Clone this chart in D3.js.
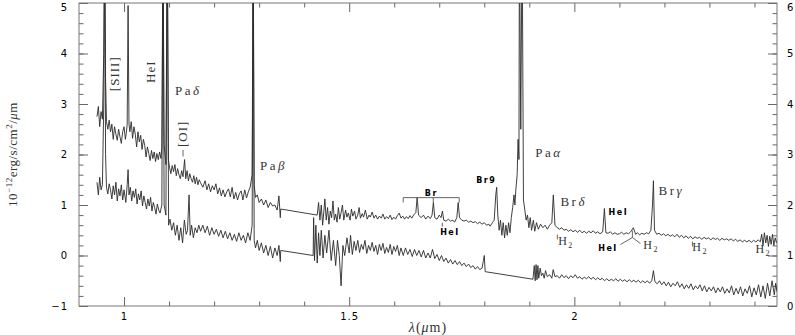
<!DOCTYPE html>
<html>
<head>
<meta charset="utf-8">
<script src="https://cdn.jsdelivr.net/npm/d3@7"></script>
<style>
  body { margin: 0; background: #fff; }
  .axis text { font-family: "DejaVu Sans", sans-serif; font-size: 10px; letter-spacing: 1px; fill: #000; }
  .axis line { stroke: #666; }
  .axis path { display: none; }
  .serif { font-family: "Liberation Serif", "DejaVu Serif", serif; }
  .sans { font-family: "DejaVu Sans", sans-serif; font-weight: bold; }
</style>
</head>
<body>
<div id="chart"></div>
<script>
// ---- data (wavelength in micron, flux in 1e-12 erg/s/cm2/um) ----
var upperSpectrum = [
  [0.940,2.75],[0.943,2.95],[0.946,2.55],[0.949,2.85],[0.952,2.7],[0.955,4.0],[0.957,6.5],[0.959,3.5],
  [0.961,2.65],[0.964,2.5],[0.967,2.68],[0.970,2.45],[0.973,2.6],[0.976,2.3],[0.979,2.55],[0.982,2.4],
  [0.985,2.28],[0.988,2.5],[0.991,2.35],[0.994,2.22],[0.997,2.45],[1.000,2.55],[1.003,2.3],[1.005,2.42],
  [1.007,2.6],[1.009,4.95],[1.011,2.6],[1.013,2.45],[1.016,2.65],[1.019,2.32],[1.022,2.55],[1.025,2.4],
  [1.028,2.15],[1.031,2.45],[1.034,2.25],[1.037,2.38],[1.040,2.1],[1.043,2.3],[1.046,2.18],[1.049,1.95],
  [1.052,2.15],[1.055,2.02],[1.058,1.88],[1.061,2.08],[1.064,1.92],[1.067,2.05],[1.070,1.86],[1.073,2.02],
  [1.076,1.9],[1.079,2.05],[1.082,1.92],[1.084,2.15],[1.0865,6.5],[1.089,2.2],[1.093,1.8],
  [1.096,6.5],[1.0985,1.9],[1.101,1.75],[1.104,1.62],[1.107,1.78],[1.110,1.66],[1.113,1.8],[1.116,1.58],
  [1.119,1.72],[1.122,1.6],[1.125,1.52],[1.128,1.68],[1.131,1.56],[1.1345,1.9],[1.137,1.52],[1.140,1.68],
  [1.143,1.48],[1.146,1.62],[1.149,1.52],[1.152,1.45],[1.155,1.58],[1.158,1.42],[1.161,1.55],[1.164,1.4],
  [1.167,1.5],[1.170,1.44],[1.175,1.35],[1.180,1.48],[1.184,1.3],[1.188,1.42],[1.192,1.26],[1.196,1.38],
  [1.200,1.3],[1.204,1.42],[1.208,1.22],[1.212,1.34],[1.216,1.18],[1.220,1.3],[1.224,1.16],[1.228,1.26],
  [1.232,1.32],[1.236,1.16],[1.240,1.35],[1.244,1.12],[1.248,1.25],[1.252,1.1],[1.256,1.22],[1.260,1.28],
  [1.264,1.1],[1.268,1.3],[1.272,1.14],[1.276,1.26],[1.280,1.35],
  [1.2845,1.6],[1.2867,6.5],[1.289,1.4],[1.292,1.15],[1.296,1.2],[1.300,1.05],[1.305,1.12],[1.310,1.0],
  [1.315,1.1],[1.320,0.95],[1.325,1.05],[1.330,0.98],[1.335,1.0],[1.340,0.9],[1.344,1.18],[1.347,0.75],
  [1.348,0.92],
  [1.429,0.8],[1.432,1.05],[1.435,0.7],[1.438,1.0],[1.441,0.6],[1.444,0.9],[1.446,1.12],[1.449,0.7],
  [1.452,0.95],[1.455,0.62],[1.458,0.88],[1.461,0.75],[1.464,1.08],[1.467,0.7],[1.470,0.82],[1.473,0.66],
  [1.476,0.95],[1.479,0.72],[1.482,0.85],[1.485,1.0],[1.488,0.7],[1.492,0.9],[1.495,0.76],[1.498,0.84],
  [1.502,0.7],[1.505,0.92],[1.508,0.78],[1.512,0.88],[1.515,0.72],[1.519,0.8],[1.522,0.95],[1.525,0.74],
  [1.529,0.83],[1.532,0.76],[1.536,0.9],[1.540,0.72],[1.544,0.8],[1.547,0.76],[1.551,0.86],[1.555,0.74],
  [1.559,0.8],[1.563,0.72],[1.567,0.78],[1.571,0.74],[1.575,0.82],[1.579,0.72],[1.583,0.77],[1.587,0.73],
  [1.591,0.8],[1.595,0.71],[1.599,0.76],[1.603,0.72],[1.607,0.79],[1.611,0.84],[1.615,0.74],[1.619,0.78],
  [1.623,0.72],[1.627,0.77],[1.631,0.73],[1.635,0.79],[1.639,0.74],[1.643,0.8],[1.648,0.85],[1.651,1.15],
  [1.654,0.8],[1.660,0.75],[1.665,0.8],[1.670,0.72],[1.675,0.78],[1.680,0.73],[1.684,0.8],[1.687,1.05],
  [1.690,0.75],[1.695,0.72],[1.700,0.8],[1.704,0.75],[1.707,0.88],[1.710,0.7],[1.715,0.68],[1.720,0.72],
  [1.725,0.68],[1.730,0.7],[1.734,0.66],[1.739,0.75],[1.742,1.05],[1.745,0.75],[1.750,0.7],[1.755,0.68],
  [1.760,0.7],[1.765,0.66],[1.770,0.68],[1.775,0.65],[1.780,0.67],[1.785,0.63],[1.790,0.66],[1.795,0.62],
  [1.800,0.65],[1.805,0.6],[1.810,0.62],[1.813,0.58],[1.818,0.65],[1.822,0.7],[1.8255,1.2],[1.8275,1.35],
  [1.830,0.8],[1.833,0.5],[1.836,0.7],[1.839,0.4],[1.842,0.65],[1.845,0.35],[1.848,0.6],[1.851,0.4],
  [1.854,0.65],[1.857,0.45],[1.860,0.75],[1.863,0.95],[1.866,1.2],[1.868,1.0],[1.870,1.3],[1.873,1.6],
  [1.875,2.3],[1.877,1.9],[1.878,6.5],[1.881,2.5],[1.884,6.5],[1.887,1.1],[1.890,0.9],[1.893,0.7],
  [1.896,0.8],[1.899,0.55],[1.902,0.75],[1.905,0.5],[1.909,0.7],[1.912,0.48],[1.916,0.65],[1.920,0.52],
  [1.925,0.62],[1.930,0.55],[1.935,0.6],[1.940,0.52],[1.945,0.6],[1.950,0.65],[1.9533,1.2],[1.957,0.6],
  [1.962,0.55],[1.967,0.52],[1.972,0.55],[1.977,0.5],[1.982,0.52],[1.987,0.48],[1.992,0.51],[1.997,0.47],
  [2.002,0.5],[2.007,0.46],[2.012,0.5],[2.017,0.45],[2.022,0.48],[2.027,0.44],[2.032,0.48],[2.037,0.45],
  [2.042,0.49],[2.047,0.44],[2.052,0.47],[2.057,0.43],[2.063,0.47],[2.0667,0.93],[2.070,0.45],[2.075,0.44],
  [2.080,0.47],[2.085,0.42],[2.090,0.45],[2.095,0.42],[2.100,0.43],[2.105,0.46],[2.110,0.42],[2.115,0.45],
  [2.120,0.43],[2.125,0.47],[2.131,0.55],[2.136,0.42],[2.140,0.45],[2.145,0.41],[2.150,0.44],[2.155,0.42],
  [2.160,0.45],[2.165,0.43],[2.170,0.5],[2.1735,1.0],[2.1756,1.48],[2.178,0.5],[2.183,0.42],[2.188,0.44],
  [2.193,0.4],[2.198,0.43],[2.203,0.39],[2.208,0.42],[2.213,0.38],[2.218,0.41],[2.223,0.37],[2.228,0.42],
  [2.233,0.36],[2.238,0.4],[2.243,0.35],[2.248,0.39],[2.253,0.34],[2.258,0.38],[2.263,0.33],[2.268,0.37],
  [2.273,0.34],[2.278,0.36],[2.283,0.32],[2.288,0.36],[2.293,0.33],[2.298,0.35],[2.303,0.31],[2.308,0.35],
  [2.313,0.32],[2.318,0.34],[2.323,0.3],[2.328,0.34],[2.333,0.31],[2.338,0.33],[2.343,0.3],[2.348,0.33],
  [2.353,0.29],[2.358,0.32],[2.363,0.28],[2.368,0.31],[2.373,0.27],[2.378,0.3],[2.383,0.27],[2.388,0.3],
  [2.393,0.26],[2.398,0.3],[2.403,0.27],[2.408,0.31],[2.413,0.27],[2.416,0.42],[2.419,0.2],[2.422,0.45],
  [2.425,0.25],[2.428,0.4],[2.431,0.18],[2.434,0.38],[2.437,0.22],[2.440,0.42],[2.443,0.2],[2.446,0.35],
  [2.449,0.25]
];

var lowerSpectrum = [
  [0.940,1.45],[0.943,1.2],[0.946,1.55],[0.949,1.3],[0.952,1.4],[0.955,3.0],[0.957,6.5],[0.959,2.0],
  [0.961,1.35],[0.964,1.22],[0.967,1.42],[0.970,1.3],[0.973,1.12],[0.976,1.38],[0.979,1.2],[0.982,1.45],
  [0.985,1.08],[0.988,1.32],[0.991,1.18],[0.994,1.4],[0.997,1.1],[1.000,1.3],[1.004,1.05],[1.007,1.4],
  [1.009,1.7],[1.011,1.2],[1.014,1.35],[1.017,1.08],[1.020,1.28],[1.023,1.15],[1.026,1.32],[1.029,1.02],
  [1.032,1.22],[1.035,1.1],[1.038,1.28],[1.041,0.98],[1.044,1.18],[1.047,1.05],[1.050,0.92],[1.053,1.12],
  [1.056,0.98],[1.059,1.15],[1.062,0.88],[1.065,1.05],[1.068,0.95],[1.071,0.82],[1.074,1.02],[1.077,0.9],
  [1.080,0.84],[1.084,1.0],[1.0865,6.5],[1.089,1.0],[1.093,0.8],[1.096,6.5],
  [1.099,0.6],[1.102,0.72],[1.106,0.5],[1.110,0.65],[1.114,0.4],[1.118,0.6],[1.122,0.3],[1.126,0.55],
  [1.130,0.25],[1.134,0.7],[1.138,0.42],[1.141,0.5],[1.1444,1.2],[1.147,0.4],[1.150,0.6],[1.154,0.35],
  [1.158,0.55],[1.162,0.45],[1.166,0.6],[1.170,0.48],[1.175,0.6],[1.180,0.45],[1.185,0.58],[1.190,0.4],
  [1.195,0.55],[1.200,0.42],[1.205,0.52],[1.210,0.38],[1.215,0.5],[1.220,0.35],[1.225,0.48],[1.230,0.33],
  [1.235,0.45],[1.240,0.3],[1.245,0.42],[1.250,0.28],[1.255,0.45],[1.260,0.3],[1.265,0.4],[1.270,0.25],
  [1.275,0.45],[1.280,0.3],[1.2845,0.6],[1.2867,6.5],[1.289,0.3],[1.292,0.15],[1.296,0.3],[1.300,0.1],
  [1.305,0.25],[1.310,0.05],[1.315,0.2],[1.320,0.0],[1.325,0.18],[1.330,-0.05],[1.335,0.15],[1.340,0.0],
  [1.344,0.2],[1.347,-0.12],[1.348,0.1],
  [1.420,0.0],[1.421,0.75],[1.423,-0.1],[1.426,0.6],[1.429,-0.15],[1.432,0.45],[1.435,0.0],[1.438,0.5],
  [1.442,-0.05],[1.446,0.4],[1.450,0.05],[1.455,0.5],[1.460,-0.1],[1.465,0.3],[1.470,-0.2],[1.474,0.3],
  [1.478,0.0],[1.482,-0.6],[1.486,0.2],[1.490,0.0],[1.495,0.35],[1.500,0.05],[1.503,0.4],[1.507,0.02],
  [1.511,0.28],[1.515,0.1],[1.519,0.3],[1.523,0.06],[1.527,0.22],[1.531,0.12],[1.535,0.3],[1.539,0.04],
  [1.543,0.2],[1.547,0.1],[1.551,0.26],[1.555,0.08],[1.559,0.2],[1.563,0.02],[1.567,0.22],[1.571,0.1],
  [1.575,0.24],[1.579,0.04],[1.583,0.16],[1.587,0.06],[1.591,0.22],[1.595,0.02],[1.599,0.18],[1.603,0.08],
  [1.607,0.2],[1.611,0.0],[1.615,0.15],[1.620,0.0],[1.625,0.15],[1.630,0.02],
  [1.635,0.12],[1.640,-0.02],[1.645,0.12],[1.650,0.0],[1.655,0.1],[1.660,-0.03],[1.665,0.1],[1.670,-0.05],
  [1.675,0.05],[1.680,-0.05],[1.685,0.12],[1.690,-0.06],[1.695,0.02],[1.700,-0.1],[1.705,0.0],[1.710,-0.12],
  [1.715,-0.05],[1.720,-0.15],[1.725,-0.08],[1.730,-0.17],[1.735,-0.1],[1.740,-0.18],[1.745,-0.12],[1.750,-0.2],
  [1.755,-0.15],[1.760,-0.22],[1.765,-0.17],[1.770,-0.24],[1.775,-0.2],[1.780,-0.27],[1.785,-0.22],[1.790,-0.28],
  [1.795,-0.25],[1.798,-0.1],[1.800,0.0],[1.802,-0.32],
  [1.908,-0.47],[1.911,-0.2],[1.913,-0.5],[1.915,-0.18],[1.917,-0.48],[1.919,-0.2],[1.921,-0.45],[1.924,-0.25],
  [1.927,-0.4],[1.930,-0.35],[1.933,-0.45],[1.936,-0.3],[1.940,-0.42],[1.945,-0.38],[1.950,-0.45],[1.953,-0.28],
  [1.957,-0.42],[1.962,-0.4],[1.967,-0.45],[1.972,-0.38],[1.977,-0.44],[1.982,-0.4],[1.987,-0.46],[1.992,-0.4],
  [1.997,-0.44],[2.002,-0.38],[2.007,-0.45],[2.012,-0.42],[2.017,-0.47],[2.022,-0.43],[2.027,-0.46],[2.032,-0.42],
  [2.037,-0.47],[2.042,-0.43],[2.047,-0.48],[2.052,-0.44],[2.057,-0.48],[2.062,-0.45],[2.067,-0.5],[2.072,-0.46],
  [2.077,-0.5],[2.082,-0.47],[2.087,-0.5],[2.092,-0.46],[2.097,-0.51],[2.102,-0.47],[2.107,-0.51],[2.112,-0.48],
  [2.117,-0.52],[2.122,-0.48],[2.127,-0.52],[2.132,-0.49],[2.137,-0.53],[2.142,-0.49],[2.147,-0.54],[2.152,-0.5],
  [2.157,-0.54],[2.162,-0.5],[2.167,-0.55],[2.172,-0.5],[2.1756,-0.3],[2.179,-0.52],[2.184,-0.56],[2.189,-0.5],
  [2.194,-0.58],[2.199,-0.52],[2.204,-0.6],[2.209,-0.53],[2.214,-0.62],[2.219,-0.55],[2.224,-0.6],[2.229,-0.52],
  [2.234,-0.63],[2.239,-0.56],[2.244,-0.66],[2.249,-0.58],[2.254,-0.65],[2.259,-0.56],[2.264,-0.68],[2.269,-0.6],
  [2.274,-0.66],[2.279,-0.58],[2.284,-0.7],[2.289,-0.6],[2.294,-0.72],[2.299,-0.63],[2.304,-0.7],[2.309,-0.62],
  [2.314,-0.74],[2.319,-0.64],[2.324,-0.72],[2.329,-0.62],[2.334,-0.75],[2.339,-0.66],[2.344,-0.74],[2.349,-0.6],
  [2.354,-0.78],[2.359,-0.65],[2.364,-0.76],[2.369,-0.62],[2.374,-0.8],[2.379,-0.66],[2.384,-0.75],[2.389,-0.6],
  [2.394,-0.82],[2.399,-0.64],[2.404,-0.78],[2.409,-0.58],[2.414,-0.82],[2.419,-0.6],[2.424,-0.85],[2.429,-0.55],
  [2.434,-0.8],[2.439,-0.5],[2.444,-0.78],[2.447,-0.55],[2.450,-0.72]
];

var xMajorTicks = [1, 1.5, 2];
var xMinorTicks = [1.1, 1.2, 1.3, 1.4, 1.6, 1.7, 1.8, 1.9, 2.1, 2.2, 2.3, 2.4];
var yLeftTicks = [-1, 0, 1, 2, 3, 4, 5];
var yRightTicks = [0, 1, 2, 3, 4, 5, 6];

// line identifications: text, wavelength, flux
var serifLabels = [
  {name: "Pa", greek: "δ", lam: 1.113, val: 3.18},
  {name: "Pa", greek: "β", lam: 1.302, val: 1.70},
  {name: "Pa", greek: "α", lam: 1.913, val: 1.96},
  {name: "Br", greek: "δ", lam: 1.969, val: 0.99},
  {name: "Br", greek: "γ", lam: 2.187, val: 1.19}
];
var rotatedLabels = [
  {text: "[SIII]", lam: 0.978, val: 3.6},
  {text: "HeI", lam: 1.058, val: 3.64},
  {text: "[OI]", lam: 1.129, val: 2.41}
];
var sansLabels = [
  {text: "Br9", lam: 1.782, val: 1.44},
  {text: "Br", lam: 1.668, val: 1.17},
  {text: "HeI", lam: 1.702, val: 0.41},
  {text: "HeI", lam: 2.076, val: 0.81},
  {text: "HeI", lam: 2.053, val: 0.08}
];
var h2Labels = [
  {lam: 1.964, val: 0.20},
  {lam: 2.153, val: 0.12},
  {lam: 2.262, val: 0.08},
  {lam: 2.402, val: 0.04}
];
// small marker strokes (in data units)
var markerLines = [
  [[1.131, 2.09], [1.131, 1.96]],
  [[1.620, 1.146], [1.7444, 1.146]],
  [[1.620, 1.146], [1.620, 1.05]],
  [[1.6511, 1.146], [1.6511, 1.05]],
  [[1.6867, 1.146], [1.6867, 1.05]],
  [[1.7444, 1.146], [1.7444, 1.05]],
  [[1.7067, 0.65], [1.7067, 0.57]],
  [[1.9622, 0.415], [1.9622, 0.32]],
  [[2.1022, 0.217], [2.1289, 0.356]],
  [[2.1289, 0.356], [2.1467, 0.237]],
  [[2.1289, 0.494], [2.1289, 0.356]],
  [[2.2622, 0.277], [2.2622, 0.178]]
];

// ---- chart setup ----
var svgWidth = 795;
var svgHeight = 335;
var margin = {top: 3, right: 18, bottom: 29, left: 79};
var width = svgWidth - margin.left - margin.right;
var height = svgHeight - margin.top - margin.bottom;

var svg = d3.select("#chart")
  .append("svg")
  .attr("width", svgWidth)
  .attr("height", svgHeight);

var chartGroup = svg.append("g")
  .attr("transform", `translate(${margin.left}, ${margin.top})`);

var xScale = d3.scaleLinear().domain([0.9, 2.45]).range([0, width]);
var yLeft = d3.scaleLinear().domain([-1, 5]).range([height, 0]);
var yRight = d3.scaleLinear().domain([0, 6]).range([height, 0]);

svg.append("defs").append("clipPath")
  .attr("id", "plotClip")
  .append("rect")
  .attr("width", width)
  .attr("height", height);

// axes (ticks point inward)
chartGroup.append("g").attr("class", "axis")
  .attr("transform", `translate(0, ${height})`)
  .call(d3.axisBottom(xScale).tickValues(xMajorTicks).tickSizeInner(-9).tickSizeOuter(0)
    .tickPadding(7).tickFormat(d3.format("")));
chartGroup.append("g").attr("class", "axis")
  .attr("transform", `translate(0, ${height})`)
  .call(d3.axisBottom(xScale).tickValues(xMinorTicks).tickSizeInner(-4.5).tickSizeOuter(0).tickFormat(""));
chartGroup.append("g").attr("class", "axis")
  .call(d3.axisTop(xScale).tickValues(xMajorTicks).tickSizeInner(-9).tickSizeOuter(0).tickFormat(""));
chartGroup.append("g").attr("class", "axis")
  .call(d3.axisTop(xScale).tickValues(xMinorTicks).tickSizeInner(-4.5).tickSizeOuter(0).tickFormat(""));

var yMinor = d3.range(-1, 5.01, 0.2).map(function(d) { return Math.round(d * 10) / 10; });

chartGroup.append("g").attr("class", "axis")
  .call(d3.axisLeft(yLeft).tickValues(yMinor).tickSizeInner(-4.5).tickSizeOuter(0).tickFormat(""));
chartGroup.append("g").attr("class", "axis")
  .call(d3.axisLeft(yLeft).tickValues(yLeftTicks).tickSizeInner(-9).tickSizeOuter(0)
    .tickPadding(11).tickFormat(d3.format("d")))
  .selectAll("text").filter(function(d) { return d === 5; }).attr("dy", "0.75em");

chartGroup.append("g").attr("class", "axis")
  .attr("transform", `translate(${width}, 0)`)
  .call(d3.axisRight(yRight).tickValues(yMinor.map(function(d) { return Math.round((d + 1) * 10) / 10; }))
    .tickSizeInner(-4.5).tickSizeOuter(0).tickFormat(""));
var rightAxis = chartGroup.append("g").attr("class", "axis")
  .attr("transform", `translate(${width}, 0)`)
  .call(d3.axisRight(yRight).tickValues(yRightTicks).tickSizeInner(-9).tickSizeOuter(0)
    .tickPadding(10).tickFormat(d3.format("d")));
rightAxis.selectAll("text").style("letter-spacing", "0px");
rightAxis.selectAll("text").filter(function(d) { return d === 6; }).attr("dy", "0.75em");

chartGroup.append("rect")
  .attr("width", width)
  .attr("height", height)
  .attr("fill", "none")
  .attr("stroke", "#777")
  .attr("stroke-width", 1);

// spectra
var specLine = d3.line()
  .x(function(d) { return xScale(d[0]); })
  .y(function(d) { return yLeft(d[1]); });

var plotArea = chartGroup.append("g").attr("clip-path", "url(#plotClip)");

[upperSpectrum, lowerSpectrum].forEach(function(spec) {
  plotArea.append("path")
    .datum(spec)
    .attr("d", specLine)
    .attr("fill", "none")
    .attr("stroke", "#2a2a2a")
    .attr("stroke-width", 0.9)
    .attr("stroke-linejoin", "round");
});

// marker strokes
chartGroup.selectAll(".marker")
  .data(markerLines)
  .enter()
  .append("path")
  .attr("class", "marker")
  .attr("d", specLine)
  .attr("fill", "none")
  .attr("stroke", "#555")
  .attr("stroke-width", 0.9);

// serif labels with greek letters
var sl = chartGroup.selectAll(".slabel")
  .data(serifLabels)
  .enter()
  .append("text")
  .attr("class", "serif")
  .attr("x", function(d) { return xScale(d.lam); })
  .attr("y", function(d) { return yLeft(d.val); })
  .style("font-size", "13px")
  .style("letter-spacing", "2.5px")
  .style("fill", "#333");
sl.append("tspan").text(function(d) { return d.name; });
sl.append("tspan").style("font-style", "italic").text(function(d) { return d.greek; });

chartGroup.selectAll(".rlabel")
  .data(rotatedLabels)
  .enter()
  .append("text")
  .attr("class", "serif")
  .attr("transform", function(d) {
    return `translate(${xScale(d.lam)}, ${yLeft(d.val)}) rotate(-90)`;
  })
  .attr("text-anchor", "middle")
  .attr("dy", "0.35em")
  .style("font-size", "13px")
  .style("letter-spacing", "1px")
  .style("fill", "#333")
  .text(function(d) { return d.text; });

chartGroup.selectAll(".sanslabel")
  .data(sansLabels)
  .enter()
  .append("text")
  .attr("class", "sans")
  .attr("x", function(d) { return xScale(d.lam); })
  .attr("y", function(d) { return yLeft(d.val); })
  .style("font-size", "8px")
  .style("letter-spacing", "1.5px")
  .text(function(d) { return d.text; });

var hl = chartGroup.selectAll(".h2label")
  .data(h2Labels)
  .enter()
  .append("text")
  .attr("class", "serif")
  .attr("x", function(d) { return xScale(d.lam); })
  .attr("y", function(d) { return yLeft(d.val); })
  .style("font-size", "12px")
  .style("letter-spacing", "1.5px")
  .style("fill", "#333");
hl.append("tspan").text("H");
hl.append("tspan").attr("dy", 3).style("font-size", "8px").text("2");

// axis titles
svg.append("text")
  .attr("class", "serif")
  .attr("transform", `translate(17, ${margin.top + height / 2}) rotate(-90)`)
  .attr("text-anchor", "middle")
  .style("font-size", "13px")
  .style("letter-spacing", "0.5px")
  .style("fill", "#333")
  .call(function(t) {
    t.append("tspan").text("10");
    t.append("tspan").attr("dy", -5).style("font-size", "9px").text("−12");
    t.append("tspan").attr("dy", 5).text("erg/s/cm");
    t.append("tspan").attr("dy", -5).style("font-size", "9px").text("2");
    t.append("tspan").attr("dy", 5).text("/");
    t.append("tspan").style("font-style", "italic").text("μ");
    t.append("tspan").text("m");
  });

svg.append("text")
  .attr("class", "serif")
  .attr("x", margin.left + width / 2)
  .attr("y", svgHeight - 3)
  .attr("text-anchor", "middle")
  .style("font-size", "14px")
  .style("letter-spacing", "1px")
  .style("fill", "#333")
  .call(function(t) {
    t.append("tspan").style("font-style", "italic").text("λ");
    t.append("tspan").text("(");
    t.append("tspan").style("font-style", "italic").text("μ");
    t.append("tspan").text("m)");
  });
</script>
</body>
</html>
